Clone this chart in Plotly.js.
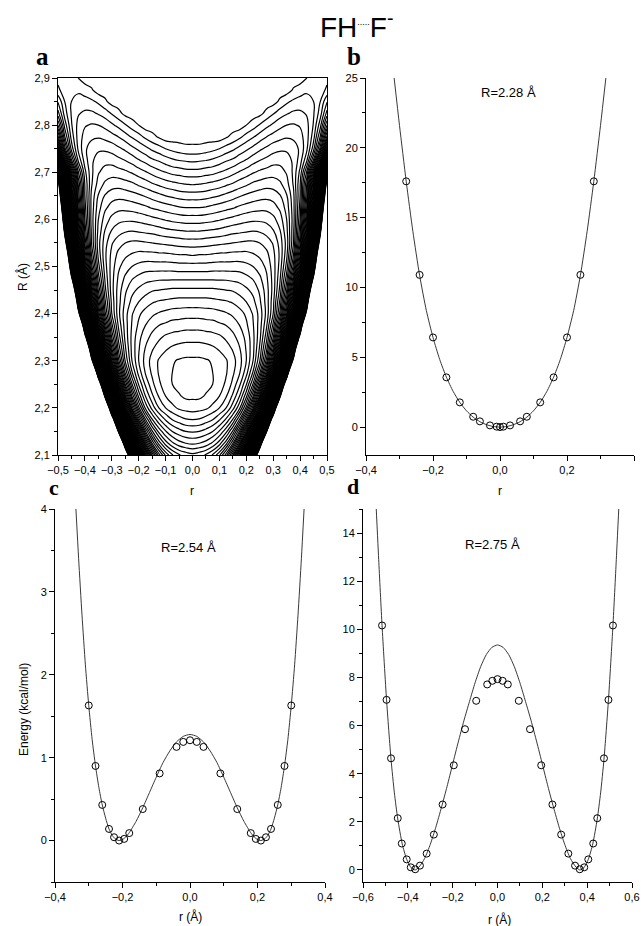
<!DOCTYPE html>
<html><head><meta charset="utf-8">
<script src="https://cdn.plot.ly/plotly-3.0.1.min.js"></script>
<style>body{margin:0;background:#fff}#chart{width:641px;height:926px}</style>
</head><body><div id="chart"></div>
<script>
// ---------- panel a: potential energy surface (contour levels) ----------
// r values >= 0 (the surface is symmetric in r); R values in Å
var rHalf=[0,0.025,0.05,0.075,0.1,0.125,0.15,0.175,0.2,0.225,0.25,0.275,0.3,0.325,0.35,0.375,0.4,0.425,0.45,0.475,0.5];
var RValues=[2.1,2.125,2.15,2.175,2.2,2.225,2.25,2.275,2.3,2.325,2.35,2.375,2.4,2.425,2.45,2.475,2.5,2.525,2.55,2.575,2.6,2.625,2.65,2.675,2.7,2.725,2.75,2.775,2.8,2.825,2.85,2.875,2.9];
var potentialHalf=[
[9.3,9.6,10.1,11.1,12.8,15.5,19.8,27.0,39.1,59.8,96.3,150,150,150,150,150,150,150,150,150,150],
[6.8,7.0,7.4,8.2,9.5,11.6,14.9,20.1,28.7,43.1,67.9,111,150,150,150,150,150,150,150,150,150],
[4.9,5.0,5.4,6.0,7.1,8.7,11.2,15.1,21.4,31.5,48.6,78.2,130,150,150,150,150,150,150,150,150],
[3.0,3.1,3.5,4.0,4.9,6.2,8.1,11.1,15.7,23.0,35.0,55.3,90.3,150,150,150,150,150,150,150,150],
[1.5,1.6,1.8,2.3,3.0,4.0,5.6,7.8,11.3,16.7,25.2,39.3,63.1,105,150,150,150,150,150,150,150],
[0.8,0.8,1.1,1.4,2.0,2.9,4.2,6.0,8.7,12.9,19.3,29.7,47.0,76.6,129,150,150,150,150,150,150],
[0.5,0.6,0.7,1.0,1.5,2.2,3.3,4.8,6.9,10.1,15.0,22.7,35.3,56.5,93.3,150,150,150,150,150,150],
[0.5,0.6,0.7,1.0,1.4,1.9,2.8,3.9,5.6,8.1,11.8,17.5,26.7,41.9,68.0,114,150,150,150,150,150],
[0.8,0.8,0.9,1.1,1.5,1.9,2.6,3.6,5.0,7.0,9.9,14.3,21.2,32.4,51.2,83.7,141,150,150,150,150],
[1.5,1.5,1.6,1.8,2.1,2.5,3.1,3.9,5.1,6.7,9.2,12.7,18.2,26.9,41.3,65.9,109,150,150,150,150],
[2.4,2.4,2.5,2.6,2.8,3.2,3.7,4.4,5.3,6.7,8.7,11.6,15.9,22.7,33.8,52.5,84.8,142,150,150,150],
[3.4,3.4,3.5,3.6,3.8,4.0,4.4,5.0,5.8,6.9,8.5,10.8,14.3,19.7,28.2,42.4,66.8,110,150,150,150],
[4.4,4.4,4.5,4.5,4.7,4.9,5.2,5.6,6.2,7.1,8.4,10.3,13.0,17.2,23.9,34.7,53.0,85.0,142,150,150],
[5.6,5.6,5.6,5.7,5.8,5.9,6.1,6.5,7.0,7.7,8.8,10.4,12.7,16.2,21.7,30.6,45.7,71.7,118,150,150],
[6.8,6.8,6.8,6.8,6.9,7.0,7.1,7.4,7.8,8.3,9.2,10.5,12.4,15.3,19.9,27.2,39.6,60.8,98.3,150,150],
[8.2,8.2,8.2,8.2,8.2,8.2,8.3,8.4,8.7,9.1,9.8,10.8,12.4,14.8,18.5,24.6,34.7,52.0,82.4,137,150],
[9.6,9.6,9.6,9.5,9.5,9.5,9.5,9.5,9.7,10.0,10.5,11.2,12.5,14.4,17.4,22.3,30.5,44.6,69.3,113,150],
[11.1,11.0,11.0,10.9,10.8,10.8,10.7,10.7,10.7,10.9,11.2,11.7,12.7,14.2,16.7,20.9,27.8,39.8,60.9,98.6,150],
[12.5,12.5,12.4,12.3,12.2,12.1,12.0,11.9,11.8,11.8,12.0,12.4,13.1,14.4,16.4,19.9,25.8,36.0,54.1,86.4,145],
[14.0,14.0,13.9,13.8,13.7,13.5,13.3,13.2,13.1,13.0,13.1,13.4,13.9,14.9,16.7,19.7,24.7,33.5,49.1,76.9,127],
[15.5,15.5,15.4,15.3,15.1,14.9,14.7,14.5,14.3,14.2,14.2,14.3,14.7,15.5,17.0,19.5,23.9,31.4,44.8,68.7,112],
[17.0,17.0,16.9,16.7,16.5,16.3,16.1,15.8,15.6,15.4,15.3,15.3,15.6,16.2,17.4,19.6,23.4,30.0,41.8,62.9,101],
[18.5,18.5,18.4,18.2,18.0,17.7,17.4,17.1,16.8,16.6,16.4,16.3,16.4,16.9,17.9,19.7,23.0,28.8,39.1,57.8,91.5],
[20.1,20.0,19.9,19.7,19.5,19.2,18.9,18.5,18.2,17.8,17.6,17.4,17.5,17.8,18.6,20.1,22.9,28.0,37.2,53.6,83.5],
[21.6,21.6,21.4,21.3,21.0,20.7,20.3,19.9,19.5,19.1,18.8,18.6,18.4,18.6,19.1,20.2,22.3,26.2,33.1,45.5,67.9],
[23.2,23.1,23.0,22.8,22.5,22.1,21.8,21.3,20.9,20.4,20.0,19.7,19.4,19.3,19.5,20.2,21.5,23.9,28.2,35.9,49.7],
[24.7,24.7,24.5,24.3,24.0,23.6,23.2,22.7,22.2,21.7,21.2,20.8,20.4,20.2,20.2,20.5,21.2,22.8,25.6,30.5,39.3],
[25.5,25.5,25.5,25.5,25.5,25.1,24.7,24.2,23.6,23.1,22.5,22.0,21.6,21.3,21.1,21.2,21.6,22.6,24.6,28.1,34.3],
[25.5,25.5,25.5,25.5,25.5,25.5,25.5,25.5,25.0,24.5,23.9,23.3,22.8,22.3,22.0,21.9,22.1,22.7,24.1,26.6,31.0],
[25.5,25.5,25.5,25.5,25.5,25.5,25.5,25.5,25.5,25.5,25.3,24.7,24.1,23.5,23.1,22.8,22.8,23.1,23.9,25.5,28.4],
[25.5,25.5,25.5,25.5,25.5,25.5,25.5,25.5,25.5,25.5,25.5,25.5,25.4,24.8,24.2,23.8,23.6,23.6,24.0,25.0,26.9],
[25.5,25.5,25.5,25.5,25.5,25.5,25.5,25.5,25.5,25.5,25.5,25.5,25.5,25.5,25.5,24.9,24.5,24.2,24.2,24.5,25.2],
[25.5,25.5,25.5,25.5,25.5,25.5,25.5,25.5,25.5,25.5,25.5,25.5,25.5,25.5,25.5,25.5,25.5,25.0,24.7,24.6,24.7]
];

// ---------- panel b: R = 2.28 Å ----------
var bX=[-0.28,-0.24,-0.2,-0.16,-0.12,-0.08,-0.06,-0.03,-0.01,0,0.01,0.03,0.06,0.08,0.12,0.16,0.2,0.24,0.28];
var bY=[17.6,10.9,6.42,3.56,1.77,0.74,0.41,0.12,0.03,0,0.03,0.12,0.41,0.74,1.77,3.56,6.42,10.9,17.6];
var bLineX=[-0.316,-0.3,-0.28,-0.26,-0.24,-0.22,-0.2,-0.18,-0.16,-0.14,-0.12,-0.1,-0.08,-0.06,-0.04,-0.02,0,0.02,0.04,0.06,0.08,0.1,0.12,0.14,0.16,0.18,0.2,0.22,0.24,0.26,0.28,0.3,0.316];
var bLineY=[25,21.6,17.6,14.0,10.87,8.36,6.42,4.84,3.57,2.56,1.77,1.165,0.71,0.385,0.167,0.041,0,0.041,0.167,0.385,0.71,1.165,1.77,2.56,3.57,4.84,6.42,8.36,10.87,14.0,17.6,21.6,25];

// ---------- panel c: R = 2.54 Å ----------
var cX=[-0.3,-0.28,-0.26,-0.24,-0.225,-0.21,-0.195,-0.18,-0.14,-0.09,-0.04,-0.02,0,0.02,0.04,0.09,0.14,0.18,0.195,0.21,0.225,0.24,0.26,0.28,0.3];
var cY=[1.63,0.9,0.43,0.14,0.04,0,0.02,0.09,0.38,0.81,1.13,1.19,1.21,1.19,1.13,0.81,0.38,0.09,0.02,0,0.04,0.14,0.43,0.9,1.63];
var cLineX=[-0.338,-0.33,-0.32,-0.31,-0.3,-0.29,-0.28,-0.27,-0.26,-0.25,-0.24,-0.23,-0.22,-0.21,-0.2,-0.19,-0.18,-0.16,-0.14,-0.12,-0.1,-0.08,-0.06,-0.04,-0.02,0,0.02,0.04,0.06,0.08,0.1,0.12,0.14,0.16,0.18,0.19,0.2,0.21,0.22,0.23,0.24,0.25,0.26,0.27,0.28,0.29,0.3,0.31,0.32,0.33,0.338];
var cLineY=[4.0,3.4,2.72,2.12,1.63,1.22,0.9,0.64,0.43,0.27,0.14,0.06,0.015,0,0.012,0.045,0.095,0.23,0.395,0.58,0.765,0.94,1.08,1.19,1.257,1.28,1.257,1.19,1.08,0.94,0.765,0.58,0.395,0.23,0.095,0.045,0.012,0,0.015,0.06,0.14,0.27,0.43,0.64,0.9,1.22,1.63,2.12,2.72,3.4,4.0];

// ---------- panel d: R = 2.75 Å ----------
var dX=[-0.515,-0.495,-0.475,-0.445,-0.427,-0.405,-0.387,-0.367,-0.346,-0.316,-0.284,-0.245,-0.195,-0.145,-0.095,-0.046,-0.023,0,0.023,0.046,0.095,0.145,0.195,0.245,0.284,0.316,0.346,0.367,0.387,0.405,0.427,0.445,0.475,0.495,0.515];
var dY=[10.16,7.07,4.64,2.15,1.1,0.44,0.11,0.03,0.18,0.68,1.47,2.72,4.35,5.85,7.03,7.71,7.86,7.93,7.86,7.71,7.03,5.85,4.35,2.72,1.47,0.68,0.18,0.03,0.11,0.44,1.1,2.15,4.64,7.07,10.16];
var dLineX=[-0.545,-0.53,-0.515,-0.495,-0.475,-0.46,-0.445,-0.425,-0.405,-0.385,-0.367,-0.35,-0.325,-0.3,-0.275,-0.25,-0.225,-0.2,-0.175,-0.15,-0.125,-0.1,-0.075,-0.05,-0.025,0,0.025,0.05,0.075,0.1,0.125,0.15,0.175,0.2,0.225,0.25,0.275,0.3,0.325,0.35,0.367,0.385,0.405,0.425,0.445,0.46,0.475,0.495,0.515,0.53,0.545];
var dLineY=[15.8,12.9,10.16,7.07,4.6,3.2,2.12,1.08,0.44,0.09,0,0.12,0.48,1.06,1.78,2.6,3.47,4.4,5.32,6.2,7.0,7.78,8.45,8.95,9.25,9.35,9.25,8.95,8.45,7.78,7.0,6.2,5.32,4.4,3.47,2.6,1.78,1.06,0.48,0.12,0,0.09,0.44,1.08,2.12,3.2,4.6,7.07,10.16,12.9,15.8];

// ---------- build the full (mirrored) contour table ----------
var rFull=rHalf.slice(1).map(function(v){return -v;}).reverse().concat(rHalf);
var zFull=potentialHalf.map(function(row){return row.slice(1).reverse().concat(row);});

var FONT='Liberation Sans, Arial, sans-serif';
function ax(o){var base={showline:true,linecolor:'#000',linewidth:1,ticks:'outside',ticklen:5,tickwidth:1,tickcolor:'#000',showgrid:false,zeroline:false,tickfont:{family:FONT,size:11,color:'#000'},minor:{ticks:'outside',ticklen:3,tickwidth:1,tickcolor:'#000',showgrid:false}};for(var k in o){if(k==='minor'){for(var m in o.minor)base.minor[m]=o.minor[m];}else base[k]=o[k];}return base;}
var lineStyle={color:'#222',width:0.9,shape:'spline',smoothing:0.6};
var markerStyle={symbol:'circle-open',size:7,color:'#000',line:{width:1,color:'#000'}};
var traces=[
 {type:'contour',name:'V(r,R)',x:rFull,y:RValues,z:zFull,xaxis:'x',yaxis:'y',showscale:false,contours:{start:1,end:80,size:1,coloring:'lines'},colorscale:[[0,'#000'],[1,'#000']],line:{width:1.2,smoothing:1.3},hoverinfo:'skip'},
 {type:'scatter',mode:'lines',name:'fit R=2.28',x:bLineX,y:bLineY,xaxis:'x2',yaxis:'y2',line:lineStyle},
 {type:'scatter',mode:'markers',name:'ab initio R=2.28',x:bX,y:bY,xaxis:'x2',yaxis:'y2',marker:markerStyle},
 {type:'scatter',mode:'lines',name:'fit R=2.54',x:cLineX,y:cLineY,xaxis:'x3',yaxis:'y3',line:lineStyle},
 {type:'scatter',mode:'markers',name:'ab initio R=2.54',x:cX,y:cY,xaxis:'x3',yaxis:'y3',marker:markerStyle},
 {type:'scatter',mode:'lines',name:'fit R=2.75',x:dLineX,y:dLineY,xaxis:'x4',yaxis:'y4',line:lineStyle},
 {type:'scatter',mode:'markers',name:'ab initio R=2.75',x:dX,y:dY,xaxis:'x4',yaxis:'y4',marker:markerStyle}
];
function px(x){return x/641;} function py(y){return 1-y/926;}
function ann(text,x,y,o){var a={text:text,x:px(x),y:py(y),xref:'paper',yref:'paper',showarrow:false,xanchor:'center',yanchor:'middle',font:{family:FONT,size:12,color:'#000'}};for(var k in o)a[k]=o[k];return a;}
var SERIF={family:'Liberation Serif, Times New Roman, serif',size:25,color:'#000',weight:'bold'};
var SERIF2={family:'Liberation Serif, Times New Roman, serif',size:22,color:'#000',weight:'bold'};
var layout={width:641,height:926,margin:{l:0,r:0,t:0,b:0},paper_bgcolor:'#fff',plot_bgcolor:'rgba(0,0,0,0)',showlegend:false,separators:',.',
 xaxis:ax({domain:[px(58),px(327)],range:[-0.5,0.5],dtick:0.1,tick0:0,tickformat:'.1f',mirror:true,minor:{dtick:0.05},anchor:'y'}),
 yaxis:ax({domain:[py(455),py(78)],range:[2.1,2.9],dtick:0.1,tick0:2.1,tickformat:'.1f',mirror:true,minor:{dtick:0.05},anchor:'x'}),
 xaxis2:ax({domain:[px(366),px(634)],range:[-0.4,0.4],dtick:0.2,tick0:0,tickformat:'.1f',minor:{dtick:0.1},anchor:'y2'}),
 yaxis2:ax({domain:[py(455),py(78)],range:[-2,25],dtick:5,tick0:0,minor:{dtick:2.5},anchor:'x2'}),
 xaxis3:ax({domain:[px(55),px(325)],range:[-0.4,0.4],dtick:0.2,tick0:0,tickformat:'.1f',minor:{dtick:0.1},anchor:'y3'}),
 yaxis3:ax({domain:[py(882),py(509)],range:[-0.5,4],dtick:1,tick0:0,minor:{dtick:0.5},anchor:'x3'}),
 xaxis4:ax({domain:[px(363),px(632)],range:[-0.6,0.6],dtick:0.2,tick0:0,tickformat:'.1f',minor:{dtick:0.1},anchor:'y4'}),
 yaxis4:ax({domain:[py(882),py(509)],range:[-0.5,15],dtick:2,tick0:0,minor:{dtick:1},anchor:'x4'}),
 annotations:[
  ann('FH<sup><span style="font-size:9px">.....</span></sup>F<sup>-</sup>',318,25,{xanchor:'left',font:{family:FONT,size:28,color:'#000'}}),
  ann('a',42,57,{font:SERIF}),ann('b',354,57,{font:SERIF}),ann('c',54,487,{font:SERIF2}),ann('d',353,486,{font:SERIF2}),
  ann('R (Å)',22,277,{textangle:-90}),
  ann('r',192,491),ann('r',500,491),
  ann('Energy (kcal/mol)',24,710,{textangle:-90}),
  ann('r (Å)',190,916),ann('r (Å)',499,919),
  ann('R=2.28 Å',508,92,{font:{family:FONT,size:13,color:'#000'}}),
  ann('R=2.54 Å',188,547,{font:{family:FONT,size:13,color:'#000'}}),
  ann('R=2.75 Å',492,544,{font:{family:FONT,size:13,color:'#000'}})
 ]};
Plotly.newPlot('chart',traces,layout,{staticPlot:true});
</script></body></html>
